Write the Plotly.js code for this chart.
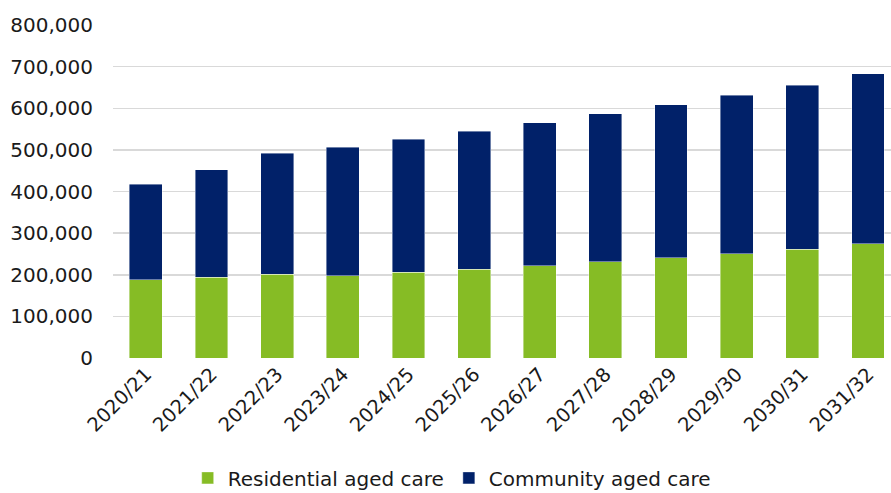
<!DOCTYPE html>
<html><head><meta charset="utf-8">
<script src="https://cdn.plot.ly/plotly-3.0.1.min.js"></script>
<style>html,body{margin:0;padding:0;background:#fff}#c{width:891px;height:493px}</style>
</head><body><div id="c"></div>
<script>
const years = ["2020/21","2021/22","2022/23","2023/24","2024/25","2025/26","2026/27","2027/28","2028/29","2029/30","2030/31","2031/32"];
const residential = [188000,194000,201000,198000,206000,213000,222000,231000,241000,251000,261000,275000];
const community = [229000,258000,291000,308000,319000,332000,343000,356000,368000,380000,394000,408000];
const yTicks = [0,100000,200000,300000,400000,500000,600000,700000,800000];
const yTickText = ["0","100,000","200,000","300,000","400,000","500,000","600,000","700,000","800,000"];

const font = "Verdana, 'DejaVu Sans', sans-serif";
const data = [
  {type:"bar", name:"Residential aged care", x:years, y:residential,
   marker:{color:"#86bc25", line:{color:"rgba(255,255,255,0.6)", width:0.7}}},
  {type:"bar", name:"Community aged care", x:years, y:community,
   marker:{color:"#012169", line:{color:"rgba(255,255,255,0.6)", width:0.7}}}
];
const layout = {
  width:891, height:493, barmode:"stack", bargap:0.5,
  paper_bgcolor:"#fff", plot_bgcolor:"#fff",
  margin:{l:113, r:0, t:25, b:135, autoexpand:false},
  font:{family:font, size:20, color:"#1a1a1a"},
  xaxis:{type:"category", range:[-0.5, 11.35], tickangle:-45, showgrid:false,
         showline:false, ticks:"", tickfont:{size:19.5}, automargin:false},
  yaxis:{range:[0,800000], tickvals:yTicks, ticktext:yTickText, showgrid:true,
         gridcolor:"#d9d9d9", gridwidth:1.5, zeroline:false, showline:false,
         ticks:"", ticklabelstandoff:19, tickfont:{size:20}, automargin:false},
  showlegend:true,
  legend:{orientation:"h", x:0.096, xanchor:"left", y:-0.36, yanchor:"middle",
          font:{size:20}, traceorder:"normal", itemwidth:30},
};
Plotly.newPlot("c", data, layout, {displayModeBar:false, staticPlot:true});
</script></body></html>
